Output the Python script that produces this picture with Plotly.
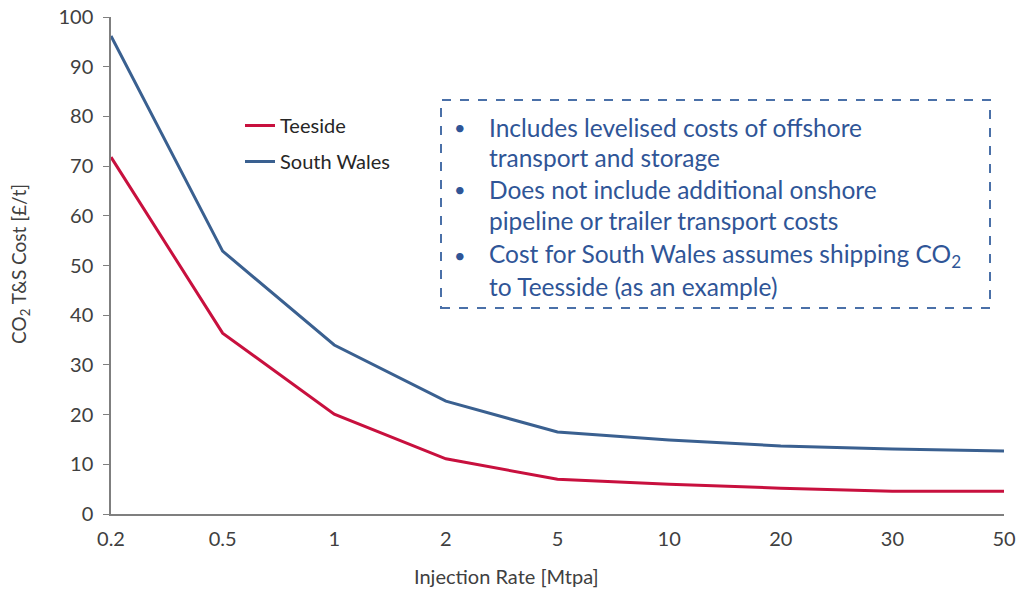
import plotly.graph_objects as go

# injection rates (categorical, evenly spaced on the chart)
rates = ["0.2", "0.5", "1", "2", "5", "10", "20", "30", "50"]
teeside = [71.8, 36.4, 20.1, 11.1, 7.0, 6.0, 5.2, 4.6, 4.6]
south_wales = [96.2, 52.9, 34.0, 22.7, 16.5, 14.9, 13.7, 13.1, 12.7]

notes = [
    ("Includes levelised costs of offshore", "transport and storage"),
    ("Does not include additional onshore", "pipeline or trailer transport costs"),
    ("Cost for South Wales assumes shipping CO<sub>2</sub>", "to Teesside (as an example)"),
]

FONT = "Lato, Carlito, 'Open Sans', sans-serif"
RED = "#C8103E"
BLUE = "#3A6090"
NOTE_BLUE = "#2F5597"
AXIS_TEXT = "#404040"

fig = go.Figure()
fig.add_trace(go.Scatter(x=rates, y=teeside, name="Teeside", mode="lines",
                         line=dict(color=RED, width=3), legendgroup="t"))
fig.add_trace(go.Scatter(x=rates, y=south_wales, name="South Wales", mode="lines",
                         line=dict(color=BLUE, width=3), legendgroup="s"))

# page has an 8px body margin, so the figure is a bit smaller than the window
OFF = 8
W, H = 1024 - 2 * OFF, 599 - 2 * OFF
# plot area in page pixels
L, R, T, B = 111, 1004, 17, 514


def px(x):
    return (x - L) / (R - L)


def py(y):
    return (B - y) / (B - T)


# dashed note box
fig.add_shape(type="rect", xref="paper", yref="paper",
              x0=px(441), x1=px(990), y0=py(308), y1=py(100),
              line=dict(color="#4A70A8", width=2, dash="dash"))

line_y = [127, 158, 189, 220, 255, 286]
for i, (a, b) in enumerate(notes):
    fig.add_annotation(x=px(452), y=py(line_y[2 * i]), xref="paper", yref="paper",
                       text="•", showarrow=False, xanchor="left", yanchor="middle",
                       font=dict(size=20, color=NOTE_BLUE, family=FONT))
    for j, t in enumerate((a, b)):
        fig.add_annotation(x=px(487), y=py(line_y[2 * i + j]), xref="paper", yref="paper",
                           text=t, showarrow=False, xanchor="left", yanchor="middle",
                           font=dict(size=24.5, color=NOTE_BLUE, family=FONT))

# axis titles placed as in the original (x title sits left of plot centre)
fig.add_annotation(x=px(506), y=py(576), xref="paper", yref="paper",
                   text="Injection Rate [Mtpa]", showarrow=False,
                   xanchor="center", yanchor="middle",
                   font=dict(size=20, color=AXIS_TEXT, family=FONT))
fig.add_annotation(x=px(20), y=py(264), xref="paper", yref="paper",
                   text="CO<sub>2</sub> T&S Cost [£/t]", showarrow=False, textangle=-90,
                   xanchor="center", yanchor="middle",
                   font=dict(size=19, color=AXIS_TEXT, family=FONT))

fig.update_layout(
    width=W, height=H,
    margin=dict(l=L - OFF, r=W - (R - OFF), t=T - OFF, b=H - (B - OFF)),
    plot_bgcolor="white", paper_bgcolor="white",
    font=dict(family=FONT, size=20, color=AXIS_TEXT),
    showlegend=True,
    legend=dict(x=px(240), y=py(106), xanchor="left", yanchor="top",
                bgcolor="rgba(0,0,0,0)", font=dict(size=20, color="#262626"),
                tracegroupgap=7, traceorder="grouped"),
    xaxis=dict(type="category", showgrid=False, showline=True, linecolor="#7F7F7F",
               linewidth=1.5, ticks="", range=[0, 8], automargin=False,
               ticklabelstandoff=6, ticklabeloverflow="allow",
               tickfont=dict(size=20)),
    yaxis=dict(range=[0, 100], dtick=10, showgrid=False, showline=True, linecolor="#7F7F7F",
               linewidth=1.5, ticks="outside", ticklen=6, tickcolor="#7F7F7F",
               zeroline=False, automargin=False, ticklabelstandoff=6,
               ticklabeloverflow="allow", tickfont=dict(size=20)),
)

fig.write_html("out.html")
